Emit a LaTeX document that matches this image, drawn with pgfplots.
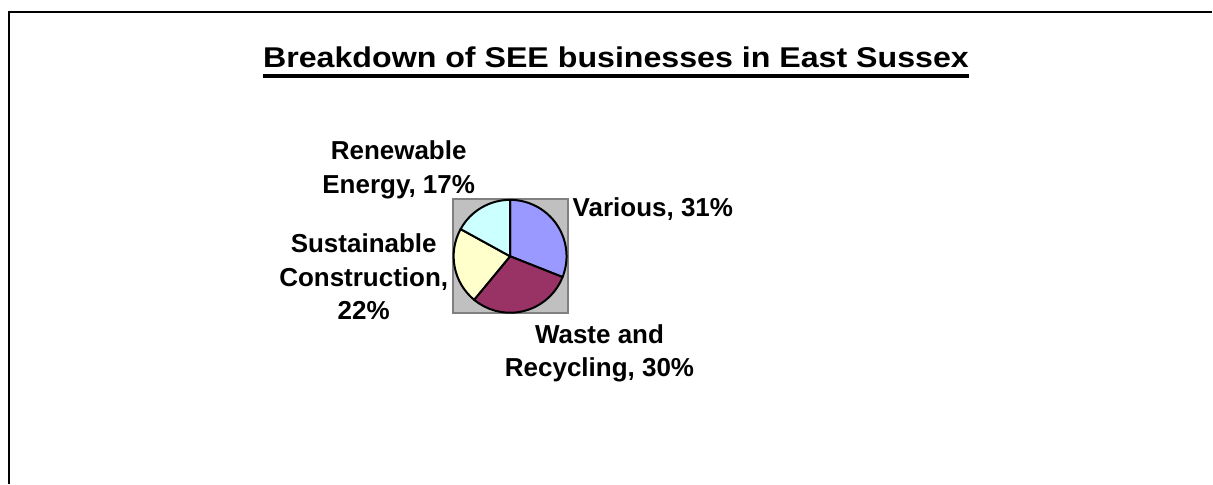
\documentclass[border=0pt]{standalone}
\usepackage{fontspec}
\setmainfont{Liberation Sans}
\usepackage{graphicx}
\usepackage{pgfplots}
\usepackage{pgfplotstable}
\pgfplotsset{compat=1.18}

\definecolor{slice0}{HTML}{9999FF}
\definecolor{slice1}{HTML}{993366}
\definecolor{slice2}{HTML}{FFFFCC}
\definecolor{slice3}{HTML}{CCFFFF}
\definecolor{plotgray}{HTML}{C0C0C0}
\definecolor{framegray}{HTML}{808080}

\tikzset{lbl/.style={anchor=base, inner sep=0pt, font=\bfseries\fontsize{26}{33}\selectfont}}

% share of SEE businesses, clockwise from 12 o'clock
\pgfplotstableread{
name value
Various 31
Waste 30
Sustainable 22
Renewable 17
}\piedata

\begin{document}
\begin{tikzpicture}
\begin{axis}[
    x=1pt, y=1pt,
    xmin=0, xmax=1213,
    ymin=0, ymax=484,
    scale only axis,
    hide axis,
    clip=false,
    anchor=south west, at={(0,0)}
]
\path (axis cs:0,0) rectangle (axis cs:1213,484);
% outer chart frame (runs off the right and bottom edges)
\draw[line width=2pt] (axis cs:9.3,0) -- (axis cs:9.3,472) -- (axis cs:1213,472);

% title
\node[anchor=base, inner sep=0pt, font=\bfseries\fontsize{28.6}{34}\selectfont]
    at (axis cs:616.5,416) {\scalebox{1.125}[1]{Breakdown of SEE businesses in East Sussex}};
\draw[line width=3.5pt] (axis cs:263,408) -- (axis cs:970,408);

% plot area
\draw[fill=plotgray, draw=framegray, line width=2pt] (axis cs:453,171) rectangle (axis cs:568,285);

% slices
\def\startang{90}
\pgfplotsforeachungrouped \i in {0,1,2,3}{%
  \pgfplotstablegetelem{\i}{value}\of\piedata
  \pgfmathsetmacro\endang{\startang-3.6*\pgfplotsretval}
  \edef\temp{\noexpand\draw[fill=slice\i, line width=2pt, line join=round]
    (axis cs:510.5,227.5) -- ++(\startang:56.5pt)
    arc[start angle=\startang, end angle=\endang, radius=56.5pt] -- cycle;}
  \temp
  \global\let\startang\endang
}

% data labels
\node[lbl] at (axis cs:399,324.7) {Renewable};
\node[lbl] at (axis cs:399,290.7) {Energy, 17\%};
\node[lbl, anchor=base west] at (axis cs:573,267.3) {Various, 31\%};
\node[lbl] at (axis cs:364,231.3) {Sustainable};
\node[lbl] at (axis cs:364,197.3) {Construction,};
\node[lbl] at (axis cs:364,164.7) {22\%};
\node[lbl] at (axis cs:600,140.7) {Waste and};
\node[lbl] at (axis cs:600,107.3) {Recycling, 30\%};
\end{axis}
\end{tikzpicture}
\end{document}
